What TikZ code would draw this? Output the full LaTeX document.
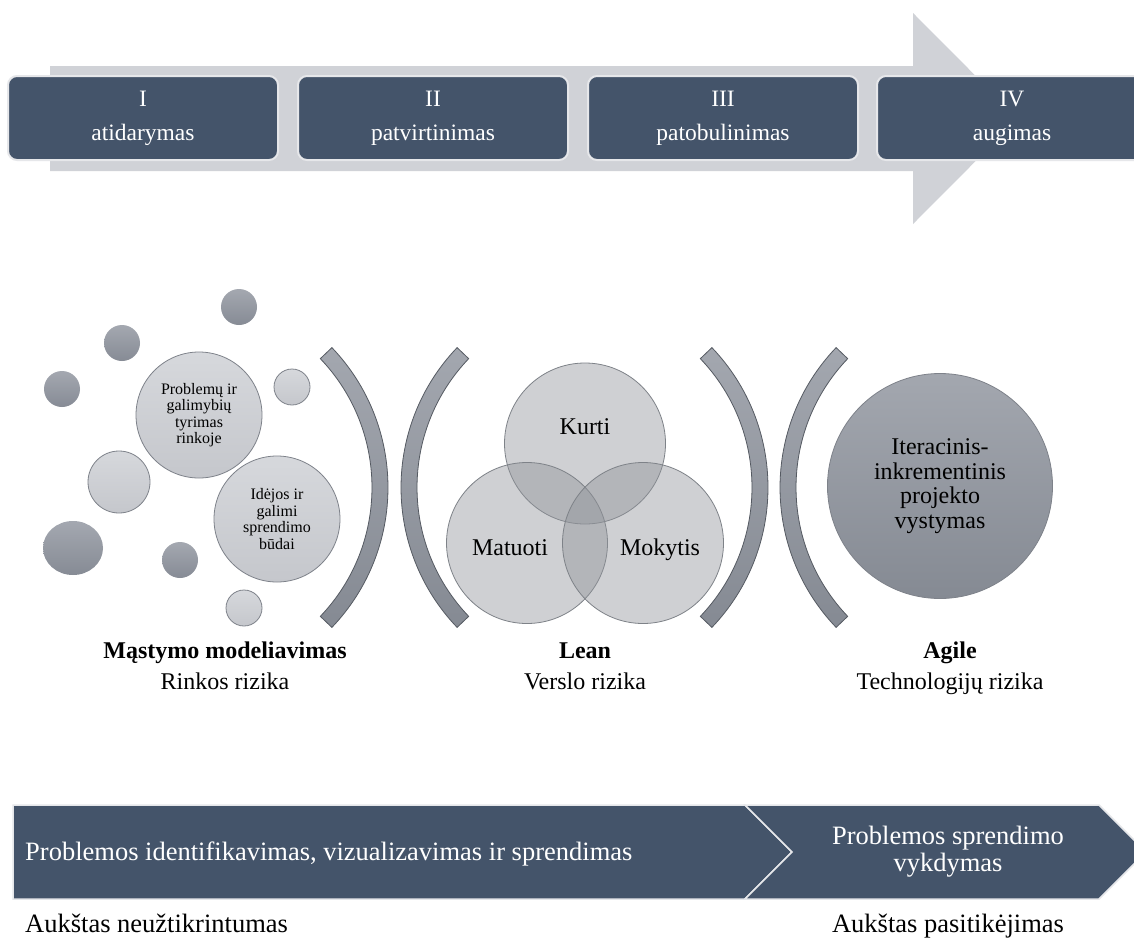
\documentclass[tikz,border=0pt]{standalone}
\usepackage{fontspec}
\setmainfont{Liberation Serif}
\usetikzlibrary{calc,shapes.geometric}
\definecolor{slate}{HTML}{44546A}
\definecolor{shaft}{HTML}{D0D2D7}
\definecolor{boxedge}{HTML}{E6E7EA}
\definecolor{dkA}{HTML}{A4A8B0}
\definecolor{dkB}{HTML}{868B95}
\definecolor{ltA}{HTML}{D6D8DC}
\definecolor{ltB}{HTML}{C5C7CC}
\definecolor{ltedge}{HTML}{7E828A}
\definecolor{brA}{HTML}{A3A7AF}
\definecolor{brB}{HTML}{858A93}
\definecolor{bredge}{HTML}{555A62}
\definecolor{venngray}{HTML}{909399}
\definecolor{vennedge}{HTML}{7E8288}
\begin{document}
\begin{tikzpicture}[x=1pt,y=-1pt,
  topbox/.style={draw=boxedge, line width=2pt, fill=slate, rounded corners=9pt,
    minimum width=270pt, minimum height=84pt, text=white, align=center,
    font=\fontsize{23.5}{34}\selectfont, inner sep=0pt},
  dark/.style={circle, inner sep=0pt, top color=dkA, bottom color=dkB, draw=none},
  light/.style={circle, inner sep=0pt, top color=ltA, bottom color=ltB, draw=ltedge, line width=0.8pt},
  bigtxt/.style={align=center, font=\fontsize{16}{16.5}\selectfont},
  venn/.style={circle, inner sep=0pt, fill=venngray, fill opacity=0.43, draw=vennedge, draw opacity=1, line width=0.8pt, minimum size=161pt},
  bracket/.style={top color=brA, bottom color=brB, draw=bredge, line width=0.8pt},
  lbl/.style={font=\fontsize{24}{24}\selectfont, anchor=base, inner sep=0pt},
  chev/.style={fill=slate, draw=boxedge, line width=1.5pt},
  btxt/.style={font=\fontsize{26.5}{27}\selectfont, inner sep=0pt}
]
\clip (0,0) rectangle (1134,937);
\fill[white] (0,0) rectangle (1134,937);

% top arrow
\fill[shaft] (50,66) -- (913,66) -- (913,13) -- (1018,118.5) -- (913,224) -- (913,171) -- (50,171) -- cycle;
\node[topbox] (s1) at (143,118) {I\\atidarymas};
\node[topbox] (s2) at (433,118) {II\\patvirtinimas};
\node[topbox] (s3) at (723,118) {III\\patobulinimas};
\node[topbox] (s4) at (1012,118) {IV\\augimas};

% left cluster
\node[dark, minimum size=36pt] (d1) at (239,307) {};
\node[dark, minimum size=36pt] (d2) at (122,343) {};
\node[dark, minimum size=36pt] (d3) at (62,389) {};
\node[light, minimum size=36pt] (l1) at (292,387) {};
\node[light, minimum size=62pt] (l2) at (119,482) {};
\node[dark, ellipse, minimum width=60pt, minimum height=54pt] (d4) at (73,548) {};
\node[dark, minimum size=36pt] (d5) at (180,560) {};
\node[light, minimum size=36pt] (l3) at (244,608) {};
\node[light, bigtxt, minimum size=126pt] (c1) at (199,415) {Problemų ir\\galimybių\\tyrimas\\rinkoje};
\node[light, bigtxt, minimum size=126pt] (c2) at (277,519) {Idėjos ir\\galimi\\sprendimo\\būdai};

% brackets
\path[bracket] ($(185.5,487.5)+(-43.7:202.5)$) arc[start angle=-43.7,end angle=43.7,radius=202.5]
  -- ($(185.5,487.5)+(43.7:186.5)$) arc[start angle=43.7,end angle=-43.7,radius=186.5] -- cycle;
\path[bracket] ($(603.5,487.5)+(136.3:202.5)$) arc[start angle=136.3,end angle=223.7,radius=202.5]
  -- ($(603.5,487.5)+(223.7:186.5)$) arc[start angle=223.7,end angle=136.3,radius=186.5] -- cycle;
\path[bracket] ($(565.5,487.5)+(-43.7:202.5)$) arc[start angle=-43.7,end angle=43.7,radius=202.5]
  -- ($(565.5,487.5)+(43.7:186.5)$) arc[start angle=43.7,end angle=-43.7,radius=186.5] -- cycle;
\path[bracket] ($(982.5,487.5)+(136.3:202.5)$) arc[start angle=136.3,end angle=223.7,radius=202.5]
  -- ($(982.5,487.5)+(223.7:186.5)$) arc[start angle=223.7,end angle=136.3,radius=186.5] -- cycle;

% venn
\node[venn] (v1) at (585,443.5) {};
\node[venn] (v2) at (527,543) {};
\node[venn] (v3) at (643,543) {};
\node[lbl] (t1) at (585,434) {Kurti};
\node[lbl] (t2) at (510,555) {Matuoti};
\node[lbl] (t3) at (660,555) {Mokytis};

% agile circle
\node[circle, inner sep=0pt, top color=brA, bottom color=brB, draw=ltedge, line width=0.8pt,
  minimum size=225pt, align=center, font=\fontsize{24}{24.5}\selectfont] (ag) at (940,486)
  {Iteracinis-\\inkrementinis\\projekto\\vystymas};

% labels
\node[lbl, font=\fontsize{24}{24}\selectfont\bfseries] (m1) at (225,658) {Mąstymo modeliavimas};
\node[lbl] (m2) at (225,689) {Rinkos rizika};
\node[lbl, font=\fontsize{24}{24}\selectfont\bfseries] (n1) at (585,658) {Lean};
\node[lbl] (n2) at (585,689) {Verslo rizika};
\node[lbl, font=\fontsize{24}{24}\selectfont\bfseries] (g1) at (950,658) {Agile};
\node[lbl] (g2) at (950,689) {Technologijų rizika};

% bottom chevrons
\path[chev] (13,805) -- (745,805) -- (792,852) -- (745,899) -- (13,899) -- cycle;
\path[chev] (745,805) -- (1099,805) -- (1146,852) -- (1099,899) -- (745,899) -- (792,852) -- cycle;
\node[btxt, anchor=base west, text=white] (p1) at (25,860) {Problemos identifikavimas, vizualizavimas ir sprendimas};
\node[btxt, text=white, align=center] (p2) at (948,852) {Problemos sprendimo\\vykdymas};
\node[btxt, anchor=base west] (a1) at (25,932) {Aukštas neužtikrintumas};
\node[btxt, anchor=base] (a2) at (948,932) {Aukštas pasitikėjimas};
\end{tikzpicture}
\end{document}
